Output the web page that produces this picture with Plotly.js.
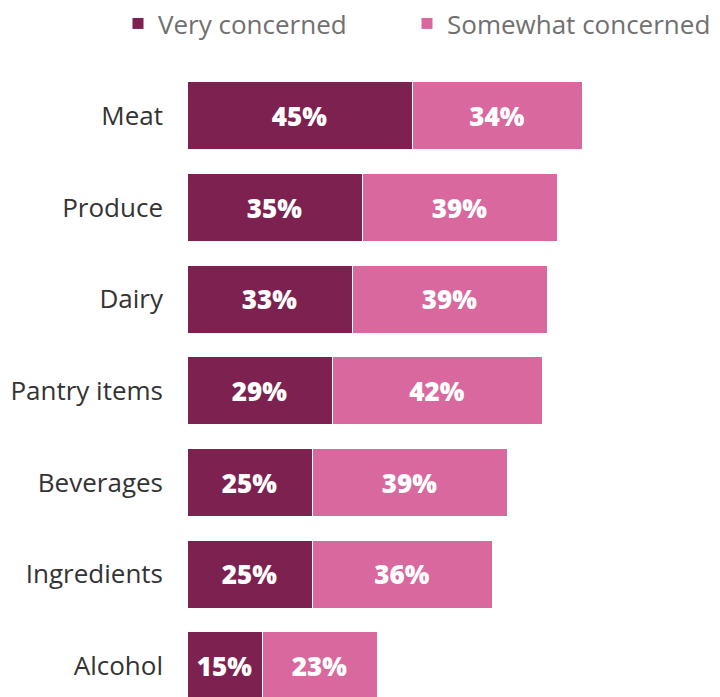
<!DOCTYPE html>
<html>
<head>
<meta charset="utf-8">
<script src="https://cdn.plot.ly/plotly-3.0.1.min.js"></script>
<style>html,body{margin:0;padding:0;background:#fff;}#chart{width:720px;height:697px;}</style>
</head>
<body>
<div id="chart"></div>
<script>
const categories = ["Meat", "Produce", "Dairy", "Pantry items", "Beverages", "Ingredients", "Alcohol"];
const veryConcerned = [45, 35, 33, 29, 25, 25, 15];
const somewhatConcerned = [34, 39, 39, 42, 39, 36, 23];
const seriesNames = ["Very concerned", "Somewhat concerned"];

const FONT = "'Open Sans', 'Noto Sans', sans-serif";

const common = {
  type: "bar",
  orientation: "h",
  y: categories,
  textposition: "inside",
  insidetextanchor: "middle",
  texttemplate: "%{x}%",
  textfont: {family: FONT, size: 26, color: "#ffffff", weight: 800},
  hoverinfo: "skip",
  width: 0.74
};

const data = [
  Object.assign({}, common, {
    name: seriesNames[0],
    x: veryConcerned,
    legend: "legend",
    marker: {color: "#7c2150", line: {color: "#ffffff", width: 1}}
  }),
  Object.assign({}, common, {
    name: seriesNames[1],
    x: somewhatConcerned,
    legend: "legend2",
    marker: {color: "#d9689e", line: {color: "#ffffff", width: 1}}
  })
];

const legendBase = {
  orientation: "h",
  xref: "paper",
  xanchor: "left",
  yref: "paper",
  y: 1.1116,
  yanchor: "top",
  font: {family: FONT, size: 26, color: "#707070"},
  bgcolor: "rgba(0,0,0,0)"
};

const layout = {
  width: 720,
  height: 697,
  barmode: "stack",
  margin: {l: 187, r: 33, t: 70, b: 0},
  paper_bgcolor: "#ffffff",
  plot_bgcolor: "#ffffff",
  font: {family: FONT, color: "#333333"},
  xaxis: {
    range: [0, 100],
    visible: false,
    fixedrange: true
  },
  yaxis: {
    type: "category",
    autorange: false,
    range: [6.34, -0.5],
    showgrid: false,
    zeroline: false,
    showline: false,
    ticks: "",
    ticklabelstandoff: 23,
    tickfont: {family: FONT, size: 26, color: "#333333"}
  },
  showlegend: true,
  legend: Object.assign({}, legendBase, {x: -0.138}),
  legend2: Object.assign({}, legendBase, {x: 0.44})
};

Plotly.newPlot("chart", data, layout, {displayModeBar: false, staticPlot: true});
</script>
</body>
</html>
